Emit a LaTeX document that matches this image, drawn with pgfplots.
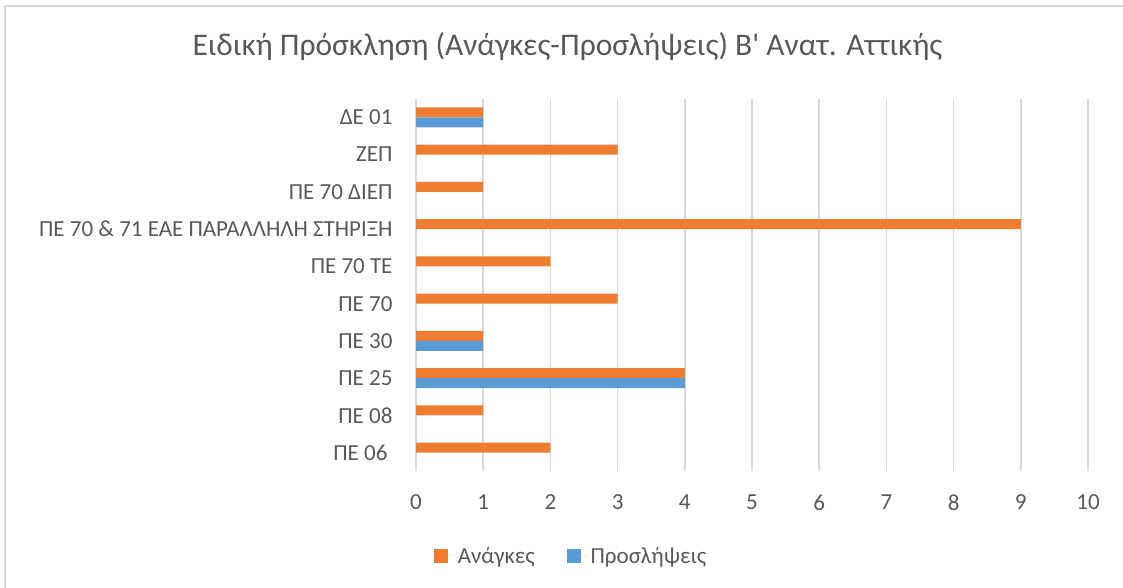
\documentclass[border=0pt]{standalone}
\usepackage{fontspec}
\setmainfont{Carlito}
\usepackage{pgfplots}
\pgfplotsset{compat=1.18}
\definecolor{needs}{HTML}{ED7D31}
\definecolor{hires}{HTML}{5B9BD5}
\definecolor{txt}{HTML}{595959}
\definecolor{gridc}{HTML}{D9D9D9}
\begin{document}
\begin{tikzpicture}
\useasboundingbox (0,0) rectangle (1123bp,588bp);
\draw[gridc, line width=1.5bp] (5bp,0) -- (5bp,582bp) -- (1123bp,582bp);
\node[anchor=base, text=txt, font=\fontsize{31.5bp}{36bp}\selectfont] at (567.5bp,532bp)
  {Ειδική Πρόσκληση (Ανάγκες-Προσλήψεις) Β\textquotesingle{} Ανατ. Αττικής};
\begin{axis}[
    at={(416bp,116.7bp)}, anchor=south west,
    scale only axis, width=672bp, height=372.6bp,
    xmin=0, xmax=10, ymin=-0.5, ymax=9.5,
    xtick={0,1,...,10},
    ytick={0,1,...,9},
    yticklabels={ΠΕ 06\hspace*{5bp}, ΠΕ 08, ΠΕ 25, ΠΕ 30, ΠΕ 70, ΠΕ 70 ΤΕ,
      ΠΕ 70 \& 71 ΕΑΕ ΠΑΡΑΛΛΗΛΗ ΣΤΗΡΙΞΗ, ΠΕ 70 ΔΙΕΠ, ΖΕΠ, ΔΕ 01},
    /pgf/number format/assume math mode=true,
    tick label style={font=\fontsize{23bp}{27bp}\selectfont, text=txt},
    xticklabel style={yshift=-20bp},
    yticklabel style={xshift=-20bp},
    axis line style={draw=none},
    major tick length=0pt,
    xmajorgrids, ymajorgrids=false,
    major grid style={gridc, line width=1.5bp},
    legend style={at={(0.2307,-0.227)}, anchor=center, draw=none, fill=none,
      font=\fontsize{23bp}{27bp}\selectfont, text=txt},
    legend columns=2,
    legend image code/.code={\fill[#1] (0bp,-7bp) rectangle (14bp,7bp);
      \path (0bp,0bp) -- (22bp,0bp);},
]
\addplot[xbar, fill=needs, draw=none, bar width=0.268, bar shift=0.134]
  coordinates {(2,0) (1,1) (4,2) (1,3) (3,4) (2,5) (9,6) (1,7) (3,8) (1,9)};
\addlegendentry{Ανάγκες\hspace*{30bp}}
\addplot[xbar, fill=hires, draw=none, bar width=0.268, bar shift=-0.134]
  coordinates {(4,2) (1,3) (1,9)};
\addlegendentry{Προσλήψεις}
\end{axis}
\end{tikzpicture}
\end{document}
